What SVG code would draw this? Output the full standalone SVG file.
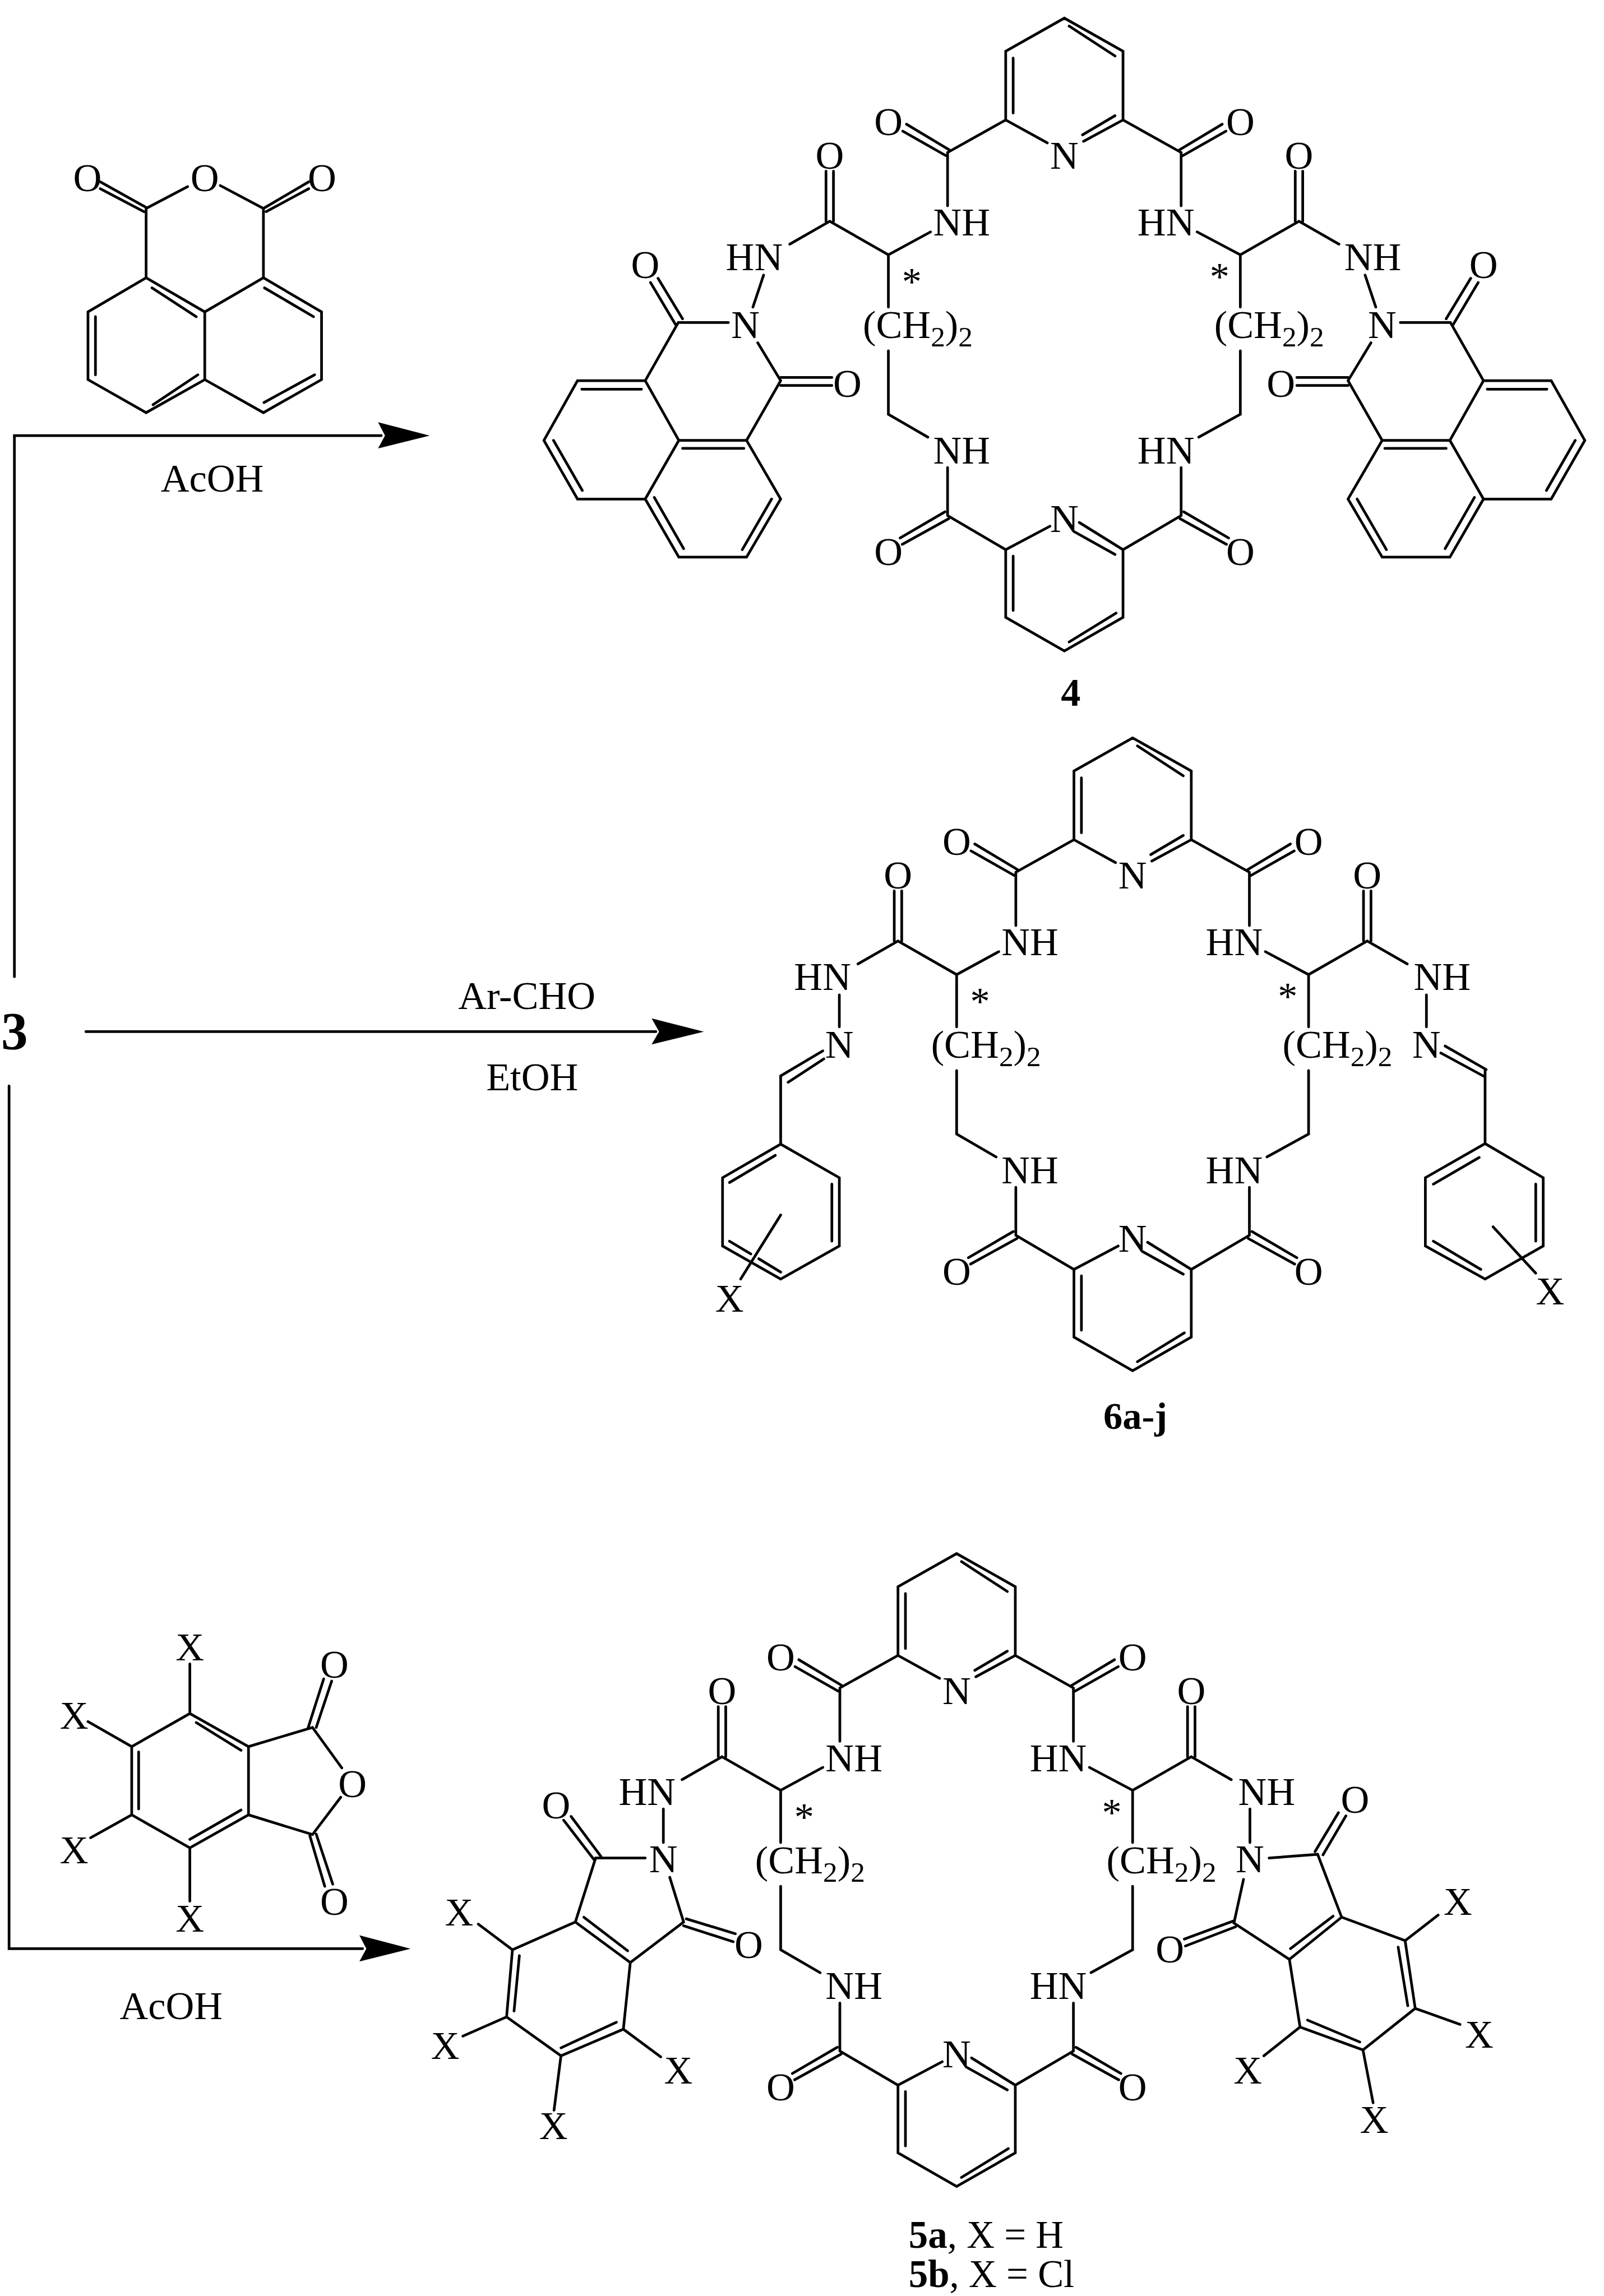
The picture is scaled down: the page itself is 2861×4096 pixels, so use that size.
<svg xmlns="http://www.w3.org/2000/svg" xmlns:xlink="http://www.w3.org/1999/xlink" width="2861" height="4096" viewBox="0 0 2861 4096">
<style>
text{font-family:"Liberation Serif","Times New Roman",serif;font-size:74px;fill:#000}
.m{text-anchor:middle}.e{text-anchor:end}
.s{font-size:54px}
.B{font-weight:bold}
.b{fill:none;stroke:#000;stroke-width:5;stroke-linejoin:miter;stroke-linecap:round}
.a{fill:#000;stroke:none}
</style>
<defs>
<path id="core" class="b" d="M-110 191L-110 62L0 0L110 62L110 191M-110 191L-32 234M110 191L36 231M-96 75V178M9 15L95 71M34 219L95 183
M-110 191L-219 252M110 191L219 252M-303 212L-222 258M-296 199L-216 247M303 212L222 258M296 199L216 247
M-219 252V352M219 252V352M-251 401L-330 444L-440 381M249 401L330 444L440 381
M-447 287V381M-433 287V381M447 287V381M433 287V381
M-330 444V542M-330 624V743L-256 786M330 444V542M330 624V743L252 786
M-219 843V933M219 843V933M-219 933L-110 997L-110 1124L0 1187L110 1124L110 997L219 933
M-110 997L-27 953M110 997L28 946M18 963L95 1006M-96 1009V1111M9 1170L97 1116
M-308 975L-224 926M-304 987L-217 939M308 975L224 926M304 987L217 939
M-440 381L-515 424M440 381L515 424"/>
<path id="naph" class="b" d="M1432 516L1412 576M1366 605H1272M1220 530L1267 609M1234 522L1280 598M1421 643L1464 714M1464 708H1560M1464 723H1560
M1272 605L1210 714H1083L1020 826L1083 936H1210L1273 826L1210 714M1273 826H1400L1464 714M1400 826L1464 936L1400 1045H1273L1210 936M1272 605L1210 714
M1091 730H1203M1038 826L1092 920M1280 841H1395M1227 933L1282 1029M1392 1031L1447 936"/>
</defs>
<rect width="2861" height="4096" fill="#fff"/>
<g transform="scale(0.95113)">

<g id="connectors">
<path class="b" d="M27 1832V817H715M161 1935H1230M17 2037V3655H680"/>
<polygon class="a" points="806,817 709,792 722,817 709,841"/>
<polygon class="a" points="1320,1935 1222,1910 1236,1935 1222,1959"/>
<polygon class="a" points="770,3655 674,3630 687,3655 674,3679"/>
</g>

<g id="reagent-labels">
<text x="27" y="1968" class="m B" style="font-size:100px">3</text>
<text x="398" y="922" class="m">AcOH</text>
<text x="988" y="1893" class="m">Ar-CHO</text>
<text x="998" y="2045" class="m">EtOH</text>
<text x="321" y="3787" class="m">AcOH</text>
</g>

<g id="anhydride-naphthalic">
<path class="b" d="M274 391L352 350M413 348L494 391M188 341L274 389M188 354L270 397M579 341L494 391M579 354L499 397
M274 391V521M494 391V521
M165 585L274 521L384 585L494 521L603 585V712L494 774L384 712V585M384 712L274 774L165 712V585
M285 540L368 594M496 540L588 594M495 755L590 703M287 759L371 703M179 594V703"/>
<text x="164" y="359" class="m">O</text><text x="384" y="359" class="m">O</text><text x="604" y="359" class="m">O</text>
</g>

<g id="compound-4">
<use href="#core" transform="translate(1996,34)"/>
<use href="#naph"/>
<use href="#naph" transform="translate(3992,0) scale(-1,1)"/>
<g transform="translate(1996,34)">
<text x="-330" y="219" class="m">O</text><text x="330" y="219" class="m">O</text><text x="-440" y="282" class="m">O</text><text x="440" y="282" class="m">O</text><text x="0" y="282" class="m">N</text>
<text x="-246" y="408">NH</text><text x="244" y="408" class="e">HN</text>
<text x="-378" y="600">(CH<tspan class="s" dy="16">2</tspan><tspan dy="-16">)</tspan><tspan class="s" dy="16">2</tspan></text>
<text x="281" y="600">(CH<tspan class="s" dy="16">2</tspan><tspan dy="-16">)</tspan><tspan class="s" dy="16">2</tspan></text>
<text x="-286" y="519" class="m">*</text><text x="291" y="510" class="m">*</text>
<text x="-246" y="835">NH</text><text x="244" y="835" class="e">HN</text>
<text x="-330" y="1026" class="m">O</text><text x="330" y="1026" class="m">O</text><text x="0" y="964" class="m">N</text>
<text x="-528" y="473" class="e">HN</text><text x="525" y="473">NH</text>
</g>
<text x="1398" y="634" class="m">N</text><text x="2592" y="634" class="m">N</text>
<text x="1210" y="522" class="m">O</text><text x="2782" y="522" class="m">O</text>
<text x="1589" y="744" class="m">O</text><text x="2402" y="744" class="m">O</text>
<text x="2008" y="1324" class="m B">4</text>
</g>

<g id="compound-6">
<use href="#core" transform="translate(2124,1384)"/>
<g transform="translate(2124,1384)">
<path class="b" d="M-550 482V542M551 482V542
M-660 634L-581 587M-646 646L-579 602M586 578L663 622M578 591L661 636
M-660 634V762M661 622V761
M-660 762L-769 825V953L-660 1015L-550 953V825L-660 762M661 761L549 825V953L661 1015L770 953V825L661 761
M-756 834L-670 783M-564 837V944M-756 944L-716 968M-701 977L-660 1002
M564 837L650 787M756 837V944M564 944L653 997
M-660 895L-735 1015M676 917L756 1004"/>
<text x="-330" y="219" class="m">O</text><text x="330" y="219" class="m">O</text><text x="-440" y="282" class="m">O</text><text x="440" y="282" class="m">O</text><text x="0" y="282" class="m">N</text>
<text x="-246" y="408">NH</text><text x="244" y="408" class="e">HN</text>
<text x="-378" y="600">(CH<tspan class="s" dy="16">2</tspan><tspan dy="-16">)</tspan><tspan class="s" dy="16">2</tspan></text>
<text x="281" y="600">(CH<tspan class="s" dy="16">2</tspan><tspan dy="-16">)</tspan><tspan class="s" dy="16">2</tspan></text>
<text x="-286" y="519" class="m">*</text><text x="291" y="510" class="m">*</text>
<text x="-246" y="835">NH</text><text x="244" y="835" class="e">HN</text>
<text x="-330" y="1026" class="m">O</text><text x="330" y="1026" class="m">O</text><text x="0" y="964" class="m">N</text>
<text x="-528" y="473" class="e">HN</text><text x="527" y="473">NH</text>
<text x="-550" y="600" class="m">N</text><text x="551" y="600" class="m">N</text>
<text x="-756" y="1076" class="m">X</text><text x="783" y="1063" class="m">X</text>
</g>
<text x="2129" y="2680" class="m B" style="font-size:72px">6a-j</text>
</g>

<g id="anhydride-phthalic">
<path class="b" d="M356 3214L466 3276V3404L356 3466L247 3404V3276L356 3214M368 3231L452 3283M260 3286V3393M356 3450L452 3395
M466 3276L586 3240L641 3316M639 3371L586 3441L466 3404
M578 3240L607 3149M593 3240L622 3153M581 3443L609 3538M593 3440L624 3534
M356 3121V3214M165 3229L247 3276M170 3447L247 3404M356 3466V3566"/>
<text x="661" y="3371" class="m">O</text><text x="627" y="3147" class="m">O</text><text x="627" y="3592" class="m">O</text>
<text x="356" y="3114" class="m">X</text><text x="139" y="3242" class="m">X</text><text x="139" y="3495" class="m">X</text><text x="356" y="3623" class="m">X</text>
</g>

<g id="compound-5">
<use href="#core" transform="translate(1794,2914)"/>
<path class="b" d="M1244 3393V3456M1210 3485H1117L1079 3605L961 3657L950 3783L1052 3856L1169 3806L1182 3681L1079 3605M1256 3521L1282 3605L1182 3681
M1057 3414L1114 3488M1071 3407L1127 3482M1282 3612L1375 3642M1287 3599L1379 3627M1095 3596L1177 3659M974 3668L964 3772M1052 3841L1156 3793
M897 3609L961 3657M868 3819L950 3783M1052 3856L1039 3958M1169 3806L1239 3858"/>
<path class="b" d="M2344 3393V3456M2380 3485L2471 3478L2516 3596L2635 3640L2654 3767L2556 3845L2438 3802L2418 3675L2516 3596M2332 3525L2314 3607L2418 3675
M2466 3473L2510 3400M2481 3479L2524 3406M2221 3637L2313 3603M2223 3650L2317 3614M2420 3655L2500 3594M2622 3652L2640 3762M2550 3830L2452 3789
M2697 3592L2635 3640M2738 3797L2654 3767M2556 3845L2575 3944M2438 3802L2370 3856"/>
<g transform="translate(1794,2914)">
<text x="-330" y="219" class="m">O</text><text x="330" y="219" class="m">O</text><text x="-440" y="282" class="m">O</text><text x="440" y="282" class="m">O</text><text x="0" y="282" class="m">N</text>
<text x="-246" y="408">NH</text><text x="244" y="408" class="e">HN</text>
<text x="-378" y="600">(CH<tspan class="s" dy="16">2</tspan><tspan dy="-16">)</tspan><tspan class="s" dy="16">2</tspan></text>
<text x="281" y="600">(CH<tspan class="s" dy="16">2</tspan><tspan dy="-16">)</tspan><tspan class="s" dy="16">2</tspan></text>
<text x="-286" y="519" class="m">*</text><text x="291" y="510" class="m">*</text>
<text x="-246" y="835">NH</text><text x="244" y="835" class="e">HN</text>
<text x="-330" y="1026" class="m">O</text><text x="330" y="1026" class="m">O</text><text x="0" y="964" class="m">N</text>
<text x="-527" y="471" class="e">HN</text><text x="528" y="471">NH</text>
</g>
<text x="1244" y="3512" class="m">N</text><text x="2344" y="3512" class="m">N</text>
<text x="1043" y="3411" class="m">O</text><text x="1404" y="3672" class="m">O</text><text x="2541" y="3400" class="m">O</text><text x="2194" y="3681" class="m">O</text>
<text x="861" y="3612" class="m">X</text><text x="835" y="3862" class="m">X</text><text x="1038" y="4012" class="m">X</text><text x="1272" y="3908" class="m">X</text>
<text x="2734" y="3592" class="m">X</text><text x="2774" y="3841" class="m">X</text><text x="2577" y="4001" class="m">X</text><text x="2340" y="3908" class="m">X</text>
<text x="1704" y="4216" style="font-size:72.5px"><tspan class="B">5a</tspan>, X = H</text>
<text x="1704" y="4290" style="font-size:72.5px"><tspan class="B">5b</tspan>, X = Cl</text>
</g>
</g>
</svg>
